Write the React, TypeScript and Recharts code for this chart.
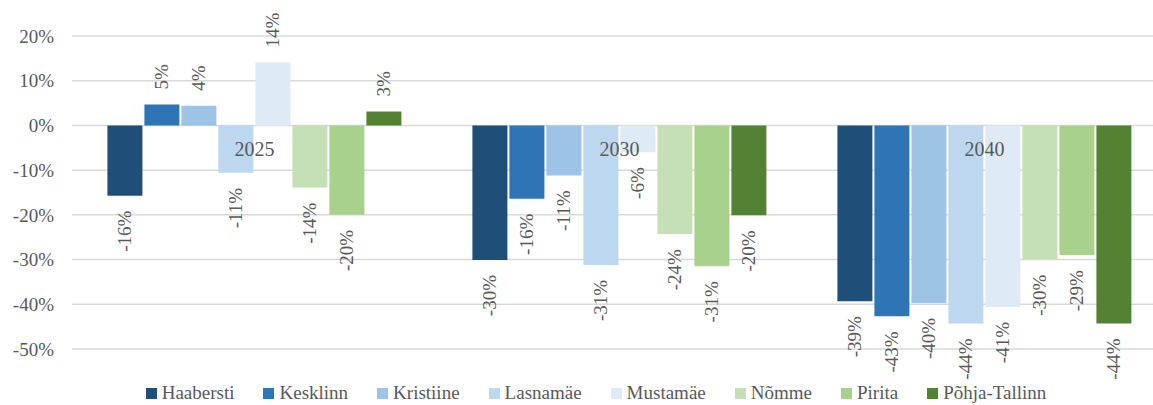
import React from 'react';
import { BarChart, Bar, XAxis, YAxis, CartesianGrid, Legend, LabelList, ReferenceDot } from 'recharts';

const years = ['2025', '2030', '2040'];
const districts = ['Haabersti', 'Kesklinn', 'Kristiine', 'Lasnamäe', 'Mustamäe', 'Nõmme', 'Pirita', 'Põhja-Tallinn'];
const colors = ['#1F4E79', '#2E75B6', '#9DC3E6', '#BDD7EE', '#DEEBF7', '#C5E0B4', '#A9D18E', '#548235'];

// change in % per district, one value per year
const haabersti = [-15.7, -30.1, -39.3];
const kesklinn = [4.7, -16.4, -42.7];
const kristiine = [4.4, -11.2, -39.7];
const lasnamae = [-10.6, -31.2, -44.3];
const mustamae = [14.1, -6.0, -40.6];
const nomme = [-13.9, -24.3, -30.0];
const pirita = [-20.0, -31.5, -29.0];
const pohjaTallinn = [3.1, -20.1, -44.3];

const yTicks = [-50, -40, -30, -20, -10, 0, 10, 20];

const seriesValues = [haabersti, kesklinn, kristiine, lasnamae, mustamae, nomme, pirita, pohjaTallinn];

const data = years.map((year, i) => {
  const row: any = { year };
  districts.forEach((d, k) => {
    row[d] = seriesValues[k][i];
  });
  return row;
});

const FONT = '"Liberation Serif", "DejaVu Serif", serif';
const TEXT = '#595959';

const BarLabel = (props: any) => {
  const box = props.viewBox || props;
  const { x, y, width, height } = box;
  const value = props.value;
  const cx = x + width / 2;
  let py: number;
  let anchor: 'start' | 'end';
  if (value >= 0) {
    py = Math.min(y, y + height) - 15;
    anchor = 'start';
  } else {
    py = Math.max(y, y + height) + 15;
    anchor = 'end';
  }
  return (
    <text
      x={cx}
      y={py}
      transform={`rotate(-90, ${cx}, ${py})`}
      textAnchor={anchor}
      dominantBaseline="central"
      fill={TEXT}
      fontSize={19}
      style={{ fontFamily: FONT }}
    >
      {`${Math.round(value)}%`}
    </text>
  );
};

const LegendContent = () => (
  <div
    style={{
      display: 'flex',
      justifyContent: 'center',
      alignItems: 'center',
      gap: 29,
      height: 22,
      lineHeight: '22px',
      fontFamily: FONT,
      fontSize: 19,
      color: TEXT,
    }}
  >
    {districts.map((d, i) => (
      <div key={d} style={{ display: 'flex', alignItems: 'center' }}>
        <span style={{ width: 11, height: 11, background: colors[i], marginRight: 5, display: 'inline-block' }} />
        <span>{d}</span>
      </div>
    ))}
  </div>
);

const App: React.FC = () => {
  return (
    <div style={{ position: 'absolute', left: 0, top: 0, width: 1153, height: 405, overflow: 'hidden', background: '#fff', fontFamily: FONT }}>
      <BarChart
        width={1167}
        height={405}
        data={data}
        margin={{ top: 36, right: 0, left: 0, bottom: 34 }}
        barCategoryGap="9.7%"
        barGap={2}
        style={{ fontFamily: FONT }}
      >
        <CartesianGrid vertical={false} stroke="#D9D9D9" strokeWidth={1.5} />
        <XAxis dataKey="year" hide />
        <YAxis
          width={72}
          domain={[-50, 20]}
          ticks={yTicks}
          interval={0}
          tickFormatter={(v: number) => `${v}%`}
          axisLine={false}
          tickLine={false}
          tickSize={0}
          tickMargin={18}
          tick={{ fill: TEXT, fontSize: 19, style: { fontFamily: FONT } }}
        />
        <Legend
          verticalAlign="bottom"
          content={<LegendContent />}
          wrapperStyle={{ bottom: 1, left: 0, width: 1192 }}
        />
        {districts.map((d, i) => (
          <Bar key={d} dataKey={d} fill={colors[i]} isAnimationActive={false}>
            <LabelList dataKey={d} content={<BarLabel />} />
          </Bar>
        ))}
        {years.map((yr) => (
          <ReferenceDot
            key={yr}
            x={yr}
            y={0}
            r={1}
            fill="none"
            stroke="none"
            label={{ value: yr, position: 'bottom', offset: 15, fill: TEXT, fontSize: 20, style: { fontFamily: FONT } }}
          />
        ))}
      </BarChart>
    </div>
  );
};

export default App;
